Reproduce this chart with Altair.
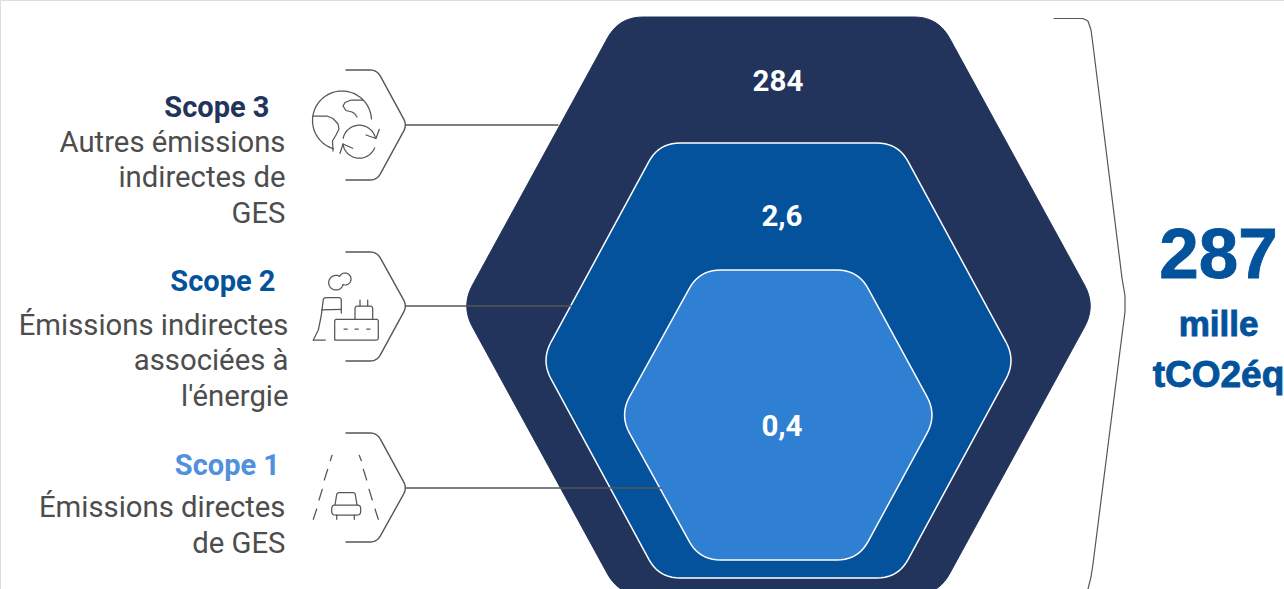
import math
import altair as alt
import pandas as pd

W, H = 1284, 589

# Emissions by scope, as printed on the diagram
SCOPE_VALUES = ["284", "2,6", "0,4"]
VALUE_X = [778, 782, 782]
VALUE_Y = [91, 226, 436]

SCOPE_NAMES = ["Scope 3", "Scope 2", "Scope 1"]
SCOPE_COLORS = ["#22335c", "#03529c", "#5090dc"]
SCOPE_RIGHT = [269.5, 275.5, 280]
SCOPE_BASE = [117, 291, 474.5]

DESC_LINES = ["Autres émissions", "indirectes de", "GES",
              "Émissions indirectes", "associées à", "l'énergie",
              "Émissions directes", "de GES"]
DESC_RIGHT = [285.5, 285.5, 285.5, 288.5, 288.5, 288.5, 285.5, 285.5]
DESC_BASE = [151.5, 187, 222.5, 334.5, 370, 405.5, 516.5, 552.5]

TOTAL_LINES = ["287", "mille", "tCO2éq"]
TOTAL_SIZE = [71, 35, 37]
TOTAL_BASE = [278, 336, 387]

# Nested hexagons: outline corners, corner rounding, fill
HEX_CORNERS = [
    [(619, 17), (938, 17), (1096, 306), (938, 595), (619, 595), (461, 306)],
    [(659, 143), (898, 143), (1016, 360.5), (898, 578), (659, 578), (541, 360.5)],
    [(699.5, 270), (858, 270), (937, 415), (858, 560), (699.5, 560), (619.5, 415)],
]
HEX_ROUND = [24, 21, 21]
HEX_FILL = ["#22335c", "#04529c", "#2f7fd2"]

LEADERS = [(406, 558, 125), (406, 571, 306), (406, 661, 488)]

CHEVRONS = [
    [(346, 70), (377, 70), (407, 125), (377, 180), (346, 180)],
    [(346, 252), (377, 252), (407, 306), (377, 361), (346, 361)],
    [(346, 433), (377, 433), (407, 488), (377, 542), (346, 542)],
]

BRACE = [(1054, 18.5), (1083, 18.5), (1088, 21), (1091, 30), (1093, 45), (1122, 278),
         (1125, 296), (1125, 312), (1122, 335), (1093, 564), (1091, 577), (1088, 589)]


def bevel(points, amount, closed=True, steps=10):
    """Replace each corner by a sampled quadratic curve."""
    n = len(points)
    out = []
    idx = range(n) if closed else range(1, n - 1)
    if not closed:
        out.append(points[0])
    for i in idx:
        p, c, q = points[i - 1], points[i], points[(i + 1) % n]
        lp, lq = math.dist(p, c), math.dist(q, c)
        a = (c[0] + (p[0] - c[0]) * amount / lp, c[1] + (p[1] - c[1]) * amount / lp)
        b = (c[0] + (q[0] - c[0]) * amount / lq, c[1] + (q[1] - c[1]) * amount / lq)
        for s in range(steps + 1):
            t = s / steps
            out.append(((1 - t) ** 2 * a[0] + 2 * t * (1 - t) * c[0] + t ** 2 * b[0],
                        (1 - t) ** 2 * a[1] + 2 * t * (1 - t) * c[1] + t ** 2 * b[1]))
    if closed:
        out.append(out[0])
    else:
        out.append(points[-1])
    return out


def arc(cx, cy, r, start, end, steps=40):
    """Circular arc, angles in degrees, clockwise on screen."""
    return [(cx + r * math.cos(math.radians(start + (end - start) * k / steps)),
             cy + r * math.sin(math.radians(start + (end - start) * k / steps)))
            for k in range(steps + 1)]


# Line icons beside each scope label
GLOBE = [
    arc(342, 120.5, 29.5, 107, 357),
    [(312.7, 116), (327, 116), (333, 118.5), (338, 124), (339, 129), (336, 135), (332.5, 141), (333, 151)],
    [(363, 100), (351, 100), (345, 102.5), (343, 106), (346, 110.5), (352, 112), (355, 114), (357, 117)],
    arc(359.3, 141.7, 16.5, 192, 348),
    [(366, 135), (376, 138.5), (379.3, 129.3)],
    arc(359.3, 141.7, 16.5, 22, 172),
    [(340, 153.3), (343, 144), (352.7, 148.3)],
]
FACTORY = [
    arc(336, 282.7, 7.3, 16, 300),
    arc(345, 279, 6, 207, 469),
    bevel([(322, 310), (323.5, 297.7), (341.3, 297.7), (341.3, 313)], 2.5, closed=False, steps=5),
    [(313.3, 340), (318.3, 330), (321, 317), (322, 310)],
    [(313.3, 340), (325.3, 340)],
    [(322, 309.8), (341.3, 309.3)],
    bevel([(334.7, 340), (334.7, 319.3), (378.3, 319.3), (378.3, 340), (334.7, 340)], 2, closed=False, steps=4),
    [(344, 329), (347.3, 329)],
    [(355, 329), (358.3, 329)],
    [(366.7, 329), (370, 329)],
    bevel([(355, 319.3), (355, 306), (372.7, 306), (372.7, 319.3)], 3, closed=False, steps=5),
    [(360, 300), (360, 306)],
    [(367.7, 300), (367.7, 306)],
]
ROAD = [
    [(313.3, 519.3), (316.7, 509)], [(319, 500), (322.3, 489.3)],
    [(324.3, 480), (327.7, 469.3)], [(330.3, 460.7), (332, 455.3)],
    [(378.3, 519.3), (375, 509)], [(372.3, 500), (369, 489.3)],
    [(366.7, 480), (363.3, 469.3)], [(361.3, 460.7), (359.3, 455.3)],
    bevel([(335, 505), (337, 492.7), (355, 492.7), (357, 505)], 2, closed=False, steps=4),
    bevel([(331.7, 505), (360.7, 505), (360.7, 515), (331.7, 515)], 3.5, steps=4),
    [(336.7, 515), (336.7, 519.3)],
    [(354.3, 515), (354.3, 519.3)],
]

x_scale = alt.Scale(domain=[0, W], range=[0, W], nice=False, zero=False)
y_scale = alt.Scale(domain=[0, H], range=[0, H], nice=False, zero=False)
x_enc = alt.X("x:Q", scale=x_scale, axis=None)
y_enc = alt.Y("y:Q", scale=y_scale, axis=None)


def path_frame(paths):
    rows = []
    for pid, path in enumerate(paths):
        for i, (x, y) in enumerate(path):
            rows.append({"x": x, "y": y, "path": pid, "i": i})
    return pd.DataFrame(rows)


def stroke_layer(paths, color, width):
    return (
        alt.Chart(path_frame(paths))
        .mark_line(color=color, strokeWidth=width, strokeCap="round", strokeJoin="round")
        .encode(x=x_enc, y=y_enc, detail="path:N", order="i:Q")
    )


layers = []

# Hexagons, largest first
for corners, amount, fill in zip(HEX_CORNERS, HEX_ROUND, HEX_FILL):
    outline = bevel(corners, amount)
    frame = path_frame([outline])
    is_outer = fill == HEX_FILL[0]
    layers.append(
        alt.Chart(frame)
        .mark_line(
            fill=fill,
            stroke=fill if is_outer else "#ffffff",
            strokeWidth=1 if is_outer else 1.5,
            strokeJoin="round",
        )
        .encode(x=x_enc, y=y_enc, order="i:Q")
    )

# Leader lines run over the hexagons
leader_paths = [[(x0, y), (x1, y)] for x0, x1, y in LEADERS]
layers.append(stroke_layer(leader_paths, "#565656", 1.3))
layers.append(stroke_layer([bevel(c, 7, closed=False, steps=6) for c in CHEVRONS], "#565656", 1.4))
layers.append(stroke_layer([bevel(BRACE, 1, closed=False, steps=3)], "#565656", 1.2))
layers.append(stroke_layer(GLOBE + FACTORY + ROAD, "#565656", 1.25))


def text_layer(texts, xs, ys, colors, font, size, weight, align, **extra):
    frame = pd.DataFrame({"label": texts, "x": xs, "y": ys, "tone": colors, "px": size})
    return (
        alt.Chart(frame)
        .mark_text(font=font, fontWeight=weight, align=align, baseline="alphabetic", **extra)
        .encode(
            x=x_enc,
            y=y_enc,
            text="label:N",
            color=alt.Color("tone:N", scale=None, legend=None),
            size=alt.Size("px:Q", scale=None, legend=None),
        )
    )


layers.append(text_layer(SCOPE_VALUES, VALUE_X, VALUE_Y, ["#ffffff"] * 3, "Roboto", [29.5] * 3, 700, "center"))
layers.append(text_layer(SCOPE_NAMES, SCOPE_RIGHT, SCOPE_BASE, SCOPE_COLORS, "Roboto", [29] * 3, 700, "right"))
layers.append(text_layer(DESC_LINES, DESC_RIGHT, DESC_BASE, ["#4d4d4d"] * 8, "Roboto", [29.3] * 8, 400, "right"))
layers.append(text_layer(TOTAL_LINES, [1218.5] * 3, TOTAL_BASE, ["#03529c"] * 3, "Liberation Sans", TOTAL_SIZE, 700, "center",
                         stroke="#03529c", strokeWidth=0.9))

chart = (
    alt.layer(*layers)
    .properties(width=W, height=H, padding=0, autosize=alt.AutoSizeParams(type="none"))
    .configure_view(stroke="transparent", strokeWidth=0)
    .configure(background="#ffffff")
)

chart.save("out.html", embed_options={"renderer": "svg", "actions": False})
